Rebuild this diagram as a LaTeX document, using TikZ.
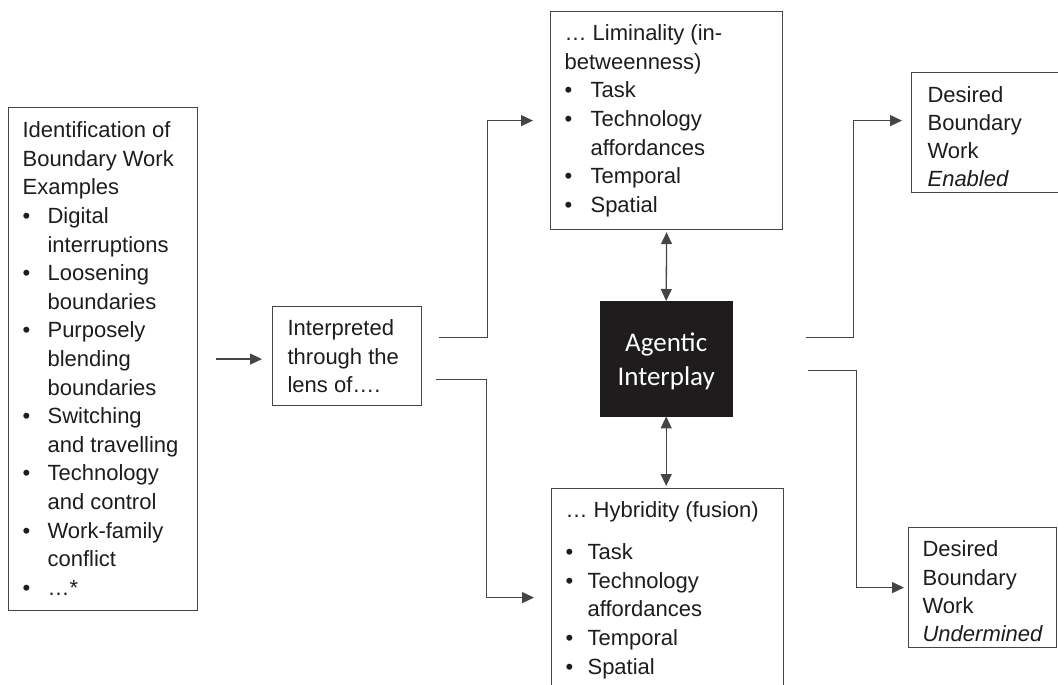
\documentclass[tikz,border=0pt]{standalone}
\usepackage{fontspec}
\setmainfont{Liberation Sans}
\newfontfamily\carlito{Carlito}
\usetikzlibrary{arrows.meta}
\definecolor{ink}{HTML}{1E1C1D}
\definecolor{edge}{HTML}{454545}
\newcommand{\bitem}[2][25pt]{\par\hangindent=#1\hangafter=1\noindent\makebox[#1][l]{•}#2}
\tikzset{
  box/.style={draw=edge, line width=1.2pt, inner sep=0pt, text=ink, font=\fontsize{22pt}{28.6pt}\selectfont},
  agbox/.style={fill=ink, draw=ink, inner sep=0pt, text=white, font=\carlito\fontsize{27pt}{34pt}\selectfont},
  conn/.style={draw=edge, line width=1.3pt, -{Triangle[length=12pt,width=11pt]}},
  dconn/.style={draw=edge, line width=1.3pt, {Triangle[length=12pt,width=11pt]}-{Triangle[length=12pt,width=11pt]}}
}
\begin{document}
\begin{tikzpicture}[x=1pt,y=-1pt]
\useasboundingbox (0,0) rectangle (1058,685);
\clip (0,0) rectangle (1058,685);

\node[box,anchor=north west] (left) at (8,107) {\parbox[c][503pt][t]{189pt}{\leftskip=14pt\rule{0pt}{30pt}Identification of\\Boundary Work\\Examples
\bitem{Digital\\interruptions}
\bitem{Loosening\\boundaries}
\bitem{Purposely\\blending\\boundaries}
\bitem{Switching\\and travelling}
\bitem{Technology\\and control}
\bitem{Work-family\\conflict}
\bitem{…*}}};

\node[box,anchor=north west] (interp) at (272,306) {\parbox[c][99pt][t]{149pt}{\leftskip=15pt\rule{0pt}{29pt}Interpreted\\through the\\lens of….}};

\node[box,anchor=north west] (lim) at (550,11) {\parbox[c][218pt][t]{232pt}{\leftskip=14pt\rule{0pt}{29pt}… Liminality (in-\\betweenness)
\bitem[26pt]{Task}
\bitem[26pt]{Technology\\affordances}
\bitem[26pt]{Temporal}
\bitem[26pt]{Spatial}}};

\node[box,anchor=north west] (hyb) at (551,488) {\parbox[c][218pt][t]{232pt}{\leftskip=14pt\rule{0pt}{29pt}… Hybridity (fusion)\par\vspace{13.4pt}
\bitem[22pt]{Task}
\bitem[22pt]{Technology\\affordances}
\bitem[22pt]{Temporal}
\bitem[22pt]{Spatial}}};

\node[agbox,anchor=north west] (ag) at (600,301) {\parbox[c][115pt][t]{132pt}{\centering\rule{0pt}{50pt}Agentic\\Interplay}};

\node[box,anchor=north west] (en) at (911,72) {\parbox[c][120pt][t]{151pt}{\fontsize{22pt}{28pt}\selectfont\leftskip=16pt\rule{0pt}{30pt}Desired\\Boundary\\Work\\\textit{Enabled}}};

\node[box,anchor=north west] (und) at (908,527) {\parbox[c][120pt][t]{148pt}{\fontsize{22pt}{28.4pt}\selectfont\leftskip=14pt\rule{0pt}{29pt}Desired\\Boundary\\Work\\\textit{Undermined}}};

% connectors
\draw[conn] ([xshift=18pt]left.east) -- ([xshift=-10pt]left.east -| interp.west);

\coordinate (a) at ([xshift=17pt,yshift=18.5pt]interp.east);
\draw[conn] (a) -- ++(48,0) |- ([xshift=-17pt]lim.west);

\coordinate (b) at ([xshift=14pt,yshift=-23.5pt]interp.east);
\draw[conn] (b) -- ++(50,0) |- ([xshift=-17pt]hyb.west);

\draw[dconn, shorten <=2pt] (lim.south) -- (ag.north);
\draw[dconn, shorten >=2pt] (ag.south) -- (ag.south |- hyb.north);

\coordinate (c) at ([xshift=74pt,yshift=21.5pt]ag.east);
\draw[conn] (c) -- ++(47,0) |- ([xshift=-9pt,yshift=12pt]en.west);

\coordinate (d) at ([xshift=76pt,yshift=-11.5pt]ag.east);
\draw[conn] (d) -- ++(48,0) |- ([xshift=-4pt]und.west);
\end{tikzpicture}
\end{document}
